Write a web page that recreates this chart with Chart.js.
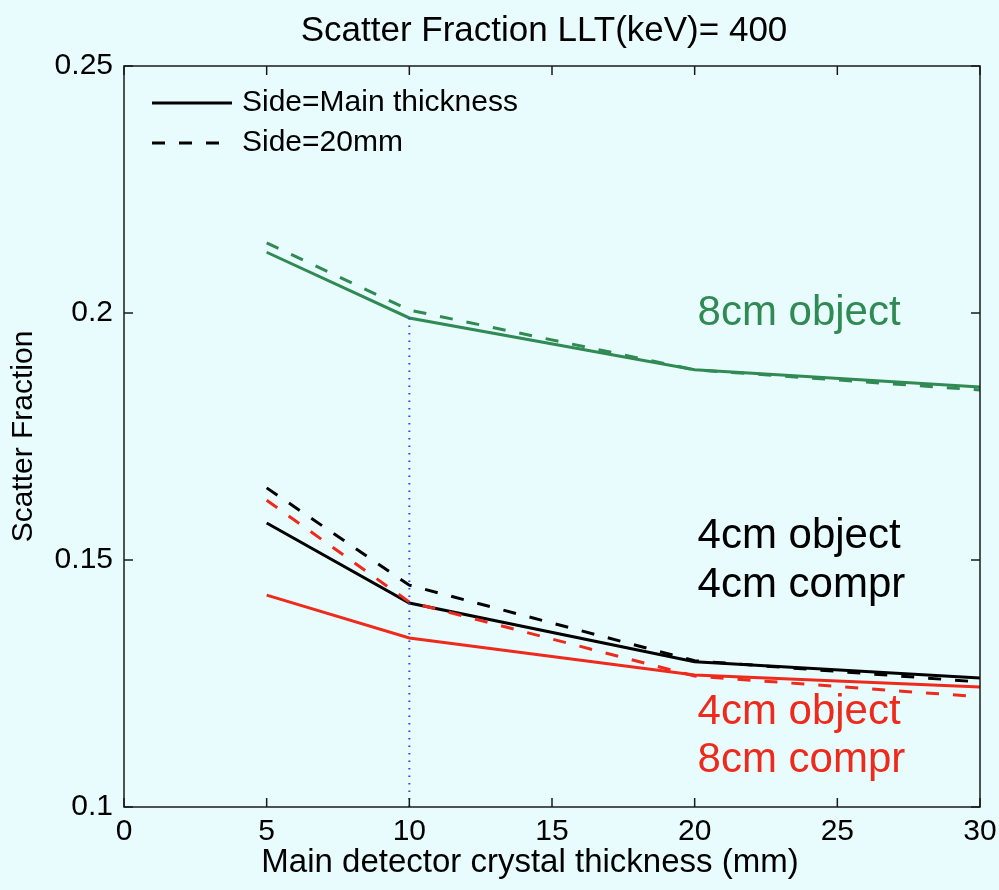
<!DOCTYPE html>
<html>
<head>
<meta charset="utf-8">
<title>Scatter Fraction</title>
<script src="https://cdn.jsdelivr.net/npm/chart.js@4"></script>
<style>
  html, body { margin: 0; padding: 0; background: #e9fcfd; }
  #wrap { width: 999px; height: 890px; position: relative; }
</style>
</head>
<body>
<div id="wrap"><canvas id="chart"></canvas></div>
<script>
// main crystal thickness (mm)
const thickness = [5, 10, 20, 30];

// scatter fraction per object / compression setup
const green8Solid = [0.2123, 0.1990, 0.1885, 0.1850];
const green8Dash  = [0.2142, 0.2006, 0.1885, 0.1844];
const black4Solid = [0.1575, 0.1413, 0.1294, 0.1261];
const black4Dash  = [0.1646, 0.1449, 0.1296, 0.1253];
const red4Solid   = [0.1429, 0.1342, 0.1267, 0.1243];
const red4Dash    = [0.1621, 0.1415, 0.1265, 0.1223];

// dotted marker at 10 mm
const markerX = [10, 10];
const markerY = [0.1, 0.199];

const xTicks = [0, 5, 10, 15, 20, 25, 30];
const yTicks = [0.1, 0.15, 0.2, 0.25];

const legendLabels = ['Side=Main thickness', 'Side=20mm'];
const notes = [
  { text: '8cm object', x: 20.1, y: 0.2000, color: '#2f8a53' },
  { text: '4cm object', x: 20.1, y: 0.1547, color: '#000000' },
  { text: '4cm compr',  x: 20.1, y: 0.1449, color: '#000000' },
  { text: '4cm object', x: 20.1, y: 0.1192, color: '#ee2a1c' },
  { text: '8cm compr',  x: 20.1, y: 0.1095, color: '#ee2a1c' },
];

const GREEN = '#2f8a53', RED = '#ee2a1c', BLACK = '#000000';
const DASH = [13, 14];
const FONT = '"Liberation Sans", Arial, Helvetica, sans-serif';

const pts = (xs, ys) => xs.map((x, i) => ({ x, y: ys[i] }));

function series(ys, color, dashed) {
  return {
    data: pts(thickness, ys),
    borderColor: color,
    borderWidth: 3,
    borderDash: dashed ? DASH : [],
    pointRadius: 0,
    tension: 0,
    fill: false,
  };
}

// background, titles, box frame with inward ticks, legend and labels
const decor = {
  id: 'decor',
  beforeDraw(chart) {
    const { ctx, width, height } = chart;
    ctx.save();
    ctx.fillStyle = '#e9fcfd';
    ctx.fillRect(0, 0, width, height);
    ctx.restore();
  },
  afterDraw(chart) {
    const { ctx, chartArea: a, scales } = chart;
    const xs = scales.x, ys = scales.y;
    const mid = (a.left + a.right) / 2;
    ctx.save();

    // title + x axis title (MATLAB-style, centred a bit left of the box)
    ctx.fillStyle = '#000';
    ctx.textAlign = 'center';
    ctx.textBaseline = 'middle';
    ctx.font = `35px ${FONT}`;
    ctx.fillText('Scatter Fraction LLT(keV)= 400', mid - 8, 31);
    ctx.font = `33px ${FONT}`;
    ctx.fillText('Main detector crystal thickness (mm)', mid - 22, a.bottom + 56);

    // frame
    ctx.strokeStyle = '#1a1a1a';
    ctx.lineWidth = 1.5;
    ctx.strokeRect(a.left, a.top, a.right - a.left, a.bottom - a.top);

    // inward ticks on all four sides
    const tl = 9;
    ctx.beginPath();
    xTicks.forEach(v => {
      const px = xs.getPixelForValue(v);
      ctx.moveTo(px, a.bottom); ctx.lineTo(px, a.bottom - tl);
      ctx.moveTo(px, a.top); ctx.lineTo(px, a.top + tl);
    });
    yTicks.forEach(v => {
      const py = ys.getPixelForValue(v);
      ctx.moveTo(a.left, py); ctx.lineTo(a.left + tl, py);
      ctx.moveTo(a.right, py); ctx.lineTo(a.right - tl, py);
    });
    ctx.stroke();

    // legend (inside, top-left, no box)
    ctx.font = `30px ${FONT}`;
    ctx.textAlign = 'left';
    ctx.fillStyle = '#000';
    ctx.strokeStyle = '#000';
    ctx.lineWidth = 3;
    const lx0 = a.left + 28, lx1 = a.left + 108;
    legendLabels.forEach((label, i) => {
      const ly = a.top + 37 + i * 40;
      ctx.setLineDash(i === 0 ? [] : DASH);
      ctx.beginPath();
      ctx.moveTo(lx0, ly); ctx.lineTo(lx1, ly);
      ctx.stroke();
      ctx.fillText(label, lx1 + 10, ly);
    });
    ctx.setLineDash([]);

    // curve labels
    ctx.font = `42px ${FONT}`;
    notes.forEach(n => {
      ctx.fillStyle = n.color;
      ctx.fillText(n.text, xs.getPixelForValue(n.x), ys.getPixelForValue(n.y));
    });

    ctx.restore();
  }
};

new Chart(document.getElementById('chart'), {
  type: 'line',
  data: {
    datasets: [
      {
        data: pts(markerX, markerY),
        borderColor: '#3440ff',
        borderWidth: 2,
        borderDash: [1.5, 6],
        pointRadius: 0,
        fill: false,
      },
      series(green8Dash, GREEN, true),
      series(green8Solid, GREEN, false),
      series(red4Dash, RED, true),
      series(red4Solid, RED, false),
      series(black4Dash, BLACK, true),
      series(black4Solid, BLACK, false),
    ],
  },
  options: {
    responsive: true,
    maintainAspectRatio: false,
    animation: false,
    layout: { padding: { top: 66, right: 19, left: 0, bottom: 0 } },
    plugins: {
      legend: { display: false },
      title: { display: false },
      tooltip: { enabled: false },
    },
    scales: {
      x: {
        type: 'linear',
        min: 0,
        max: 30,
        afterBuildTicks: s => { s.ticks = xTicks.map(v => ({ value: v })); },
        afterFit: s => { s.height = 83; s.paddingLeft = 0; s.paddingRight = 0; },
        grid: { display: false, drawTicks: false },
        border: { display: false },
        ticks: { color: '#000', font: { family: FONT, size: 30 }, padding: 7, maxRotation: 0 },
        title: { display: false },
      },
      y: {
        type: 'linear',
        min: 0.1,
        max: 0.25,
        afterBuildTicks: s => { s.ticks = yTicks.map(v => ({ value: v })); },
        afterFit: s => { s.width = 124; s.paddingTop = 0; s.paddingBottom = 0; },
        grid: { display: false, drawTicks: false },
        border: { display: false },
        ticks: {
          color: '#000',
          font: { family: FONT, size: 30 },
          padding: 11,
          callback: v => String(+v.toFixed(2)),
        },
        title: {
          display: true,
          text: 'Scatter Fraction',
          color: '#000',
          font: { family: FONT, size: 30 },
          padding: 6,
        },
      },
    },
  },
  plugins: [decor],
});
</script>
</body>
</html>
